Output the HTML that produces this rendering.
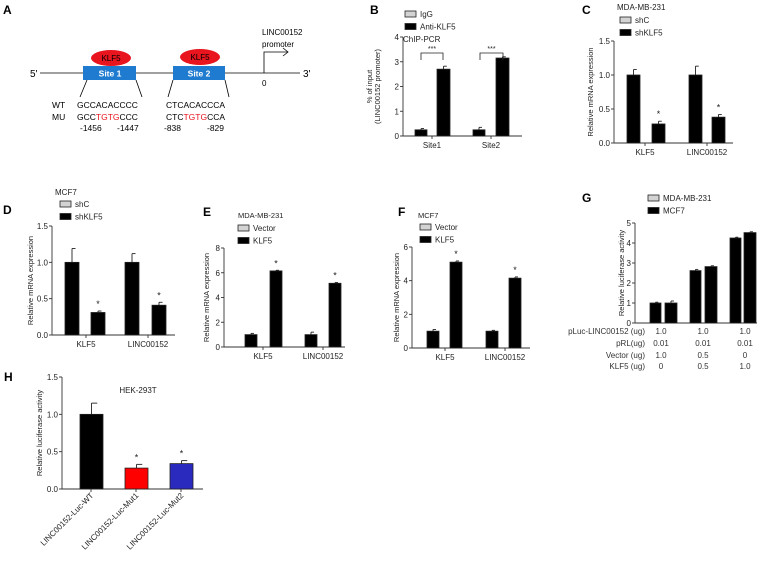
<!DOCTYPE html>
<html><head><meta charset="utf-8"><style>
body{margin:0;background:#fff}
svg{display:block;font-family:"Liberation Sans",Arial,sans-serif}
</style></head><body>
<svg id="fig" width="765" height="570" viewBox="0 0 765 570" xmlns="http://www.w3.org/2000/svg">
<g>
<text x="3" y="14" font-size="12" font-weight="bold">A</text>
<text x="30" y="77" font-size="10">5'</text>
<line x1="40" y1="73" x2="300" y2="73" stroke="#000" stroke-width="0.8"/>
<text x="303" y="77" font-size="10">3'</text>
<rect x="83" y="66" width="53" height="14" fill="#1f7bcf"/>
<text x="110" y="76.5" font-size="8.5" fill="#fff" font-weight="bold" text-anchor="middle">Site 1</text>
<ellipse cx="111" cy="58" rx="20" ry="8" fill="#e8141e"/>
<text x="111" y="61" font-size="8" text-anchor="middle">KLF5</text>
<rect x="173" y="66" width="52" height="14" fill="#1f7bcf"/>
<text x="199" y="76.5" font-size="8.5" fill="#fff" font-weight="bold" text-anchor="middle">Site 2</text>
<ellipse cx="200" cy="57" rx="20" ry="8" fill="#e8141e"/>
<text x="200" y="60" font-size="8" text-anchor="middle">KLF5</text>
<polyline points="264,73 264,52 288,52" fill="none" stroke="#000" stroke-width="0.8"/>
<polyline points="283,48 288,52 283,56" fill="none" stroke="#000" stroke-width="0.8"/>
<text x="262" y="35" font-size="8">LINC00152</text>
<text x="262" y="47" font-size="8">promoter</text>
<text x="262" y="86" font-size="8">0</text>
<line x1="87" y1="80" x2="80" y2="97" stroke="#000" stroke-width="0.8"/>
<line x1="136" y1="80" x2="142" y2="97" stroke="#000" stroke-width="0.8"/>
<line x1="173" y1="80" x2="168" y2="97" stroke="#000" stroke-width="0.8"/>
<line x1="225" y1="80" x2="229" y2="97" stroke="#000" stroke-width="0.8"/>
<g font-size="8.5">
<text x="52" y="108">WT</text><text x="52" y="120">MU</text>
<text x="77" y="108">GCCACACCCC</text>
<text x="77" y="120">GCC<tspan fill="#e8141e">TGTG</tspan>CCC</text>
<text x="166" y="108">CTCACACCCA</text>
<text x="166" y="120">CTC<tspan fill="#e8141e">TGTG</tspan>CCA</text>
<text x="80" y="131">-1456</text><text x="117" y="131">-1447</text>
<text x="164" y="131">-838</text><text x="207" y="131">-829</text>
</g>
</g>
<g id="charts"></g>
<g font-size="8" fill="#333">
<text x="645" y="334" text-anchor="end">pLuc-LINC00152 (ug)</text>
<text x="645" y="346" text-anchor="end">pRL(ug)</text>
<text x="645" y="358" text-anchor="end">Vector (ug)</text>
<text x="645" y="369" text-anchor="end">KLF5 (ug)</text>
<text x="661" y="334" text-anchor="middle">1.0</text><text x="703" y="334" text-anchor="middle">1.0</text><text x="745" y="334" text-anchor="middle">1.0</text>
<text x="661" y="346" text-anchor="middle">0.01</text><text x="703" y="346" text-anchor="middle">0.01</text><text x="745" y="346" text-anchor="middle">0.01</text>
<text x="661" y="358" text-anchor="middle">1.0</text><text x="703" y="358" text-anchor="middle">0.5</text><text x="745" y="358" text-anchor="middle">0</text>
<text x="661" y="369" text-anchor="middle">0</text><text x="703" y="369" text-anchor="middle">0.5</text><text x="745" y="369" text-anchor="middle">1.0</text>
</g>
</svg>
<script>
// Panel B
const bCats=["Site1","Site2"], bIgG=[0.25,0.25], bIgGErr=[0.05,0.1], bAnti=[2.7,3.15], bAntiErr=[0.12,0.05], bTicks=[0,1,2,3,4];
// Panel C
const cCats=["KLF5","LINC00152"], cShC=[1.0,1.0], cShCErr=[0.08,0.13], cShK=[0.28,0.38], cShKErr=[0.04,0.04], cTicks=["0.0","0.5","1.0","1.5"];
// Panel D
const dCats=["KLF5","LINC00152"], dShC=[1.0,1.0], dShCErr=[0.19,0.12], dShK=[0.31,0.41], dShKErr=[0.02,0.04], dTicks=["0.0","0.5","1.0","1.5"];
// Panel E
const eCats=["KLF5","LINC00152"], eVec=[1.0,1.0], eVecErr=[0.1,0.2], eKlf=[6.15,5.15], eKlfErr=[0.05,0.06], eTicks=[0,2,4,6,8];
// Panel F
const fCats=["KLF5","LINC00152"], fVec=[1.0,1.0], fVecErr=[0.1,0.05], fKlf=[5.1,4.15], fKlfErr=[0.07,0.07], fTicks=[0,2,4,6];
// Panel G
const gMda=[1.0,2.62,4.25], gMdaErr=[0.04,0.06,0.04], gMcf=[1.0,2.82,4.52], gMcfErr=[0.1,0.04,0.04], gTicks=[0,1,2,3,4,5];
// Panel H
const hCats=["LINC00152-Luc-WT","LINC00152-Luc-Mut1","LINC00152-Luc-Mut2"], hVals=[1.0,0.28,0.34], hErr=[0.15,0.05,0.04], hTicks=["0.0","0.5","1.0","1.5"];

const NS="http://www.w3.org/2000/svg", root=document.getElementById('charts');
function mk(t,a,p){const e=document.createElementNS(NS,t);for(const k in a)e.setAttribute(k,a[k]);(p||root).appendChild(e);return e;}
function txt(p,x,y,s,fs,anchor,extra){const e=mk('text',Object.assign({x:x,y:y,'font-size':fs,'text-anchor':anchor||'start',fill:'#222'},extra||{}),p);e.textContent=s;return e;}

function panel(o){
  const g=mk('g',{});
  
  
  const y=v=>o.y0-(v-o.min)/(o.max-o.min)*(o.y0-o.y1);
  mk('line',{x1:o.ax,y1:o.y1,x2:o.ax,y2:o.y0,stroke:'#333','stroke-width':0.9},g);
  mk('line',{x1:o.ax,y1:o.y0,x2:o.xEnd,y2:o.y0,stroke:'#333','stroke-width':0.9},g);
  o.ticks.forEach(t=>{const v=parseFloat(t),yy=y(v);
    mk('line',{x1:o.ax-3,y1:yy,x2:o.ax,y2:yy,stroke:'#333','stroke-width':0.9},g);
    const tl=txt(g,o.ax-4,yy+3,String(t),8,'end');
    
    });
  const yl=txt(g,0,0,o.ylabel,7.5,'middle',{transform:`translate(${o.ylx},${(o.y0+o.y1)/2}) rotate(-90)`});
  
  
  if(o.ylabel2){txt(g,0,0,o.ylabel2,7.5,'middle',{transform:`translate(${o.ylx+8},${(o.y0+o.y1)/2}) rotate(-90)`});}
  o.series.forEach(s=>{s.vals.forEach((v,i)=>{
    const x=s.xs[i], top=y(v), w=s.w;
    const b=mk('rect',{x:x,y:top,width:w,height:o.y0-top,fill:s.fill[i]||s.fill,stroke:'#222','stroke-width':0.8},g);
    
    
    const et=y(v+s.err[i]), cx=x+w/2;
    mk('line',{x1:cx,y1:top,x2:cx,y2:et,stroke:'#222','stroke-width':0.9},g);
    mk('line',{x1:cx,y1:et,x2:cx+w/4,y2:et,stroke:'#222','stroke-width':0.9},g);
    if(s.star&&s.star[i])txt(g,cx,et-4,'*',9,'middle');
  });});
  if(o.cats)o.cats.forEach((c,i)=>{const cx=o.catX[i];
    mk('line',{x1:cx,y1:o.y0,x2:cx,y2:o.y0+3,stroke:'#333','stroke-width':0.9},g);
    const l=txt(g,cx,o.y0+12,c,8,'middle');
    
    });
  return {g,y};
}
function legend(g,x,y,items){items.forEach((it,i)=>{
  const r=mk('rect',{x:x,y:y+i*12.5-6,width:11,height:6,fill:it[1],stroke:'#222','stroke-width':0.8},g);
  
  
  txt(g,x+15,y+i*12.5,it[0],8);});}
const GR='#d3d3d3', BK='#000';

// B
let p=panel({name:'panel-b-chart',ax:403,y0:136,y1:37,min:0,max:4,xEnd:522,ticks:bTicks,ylabel:'% of input',ylabel2:'(LINC00152 promoter)',ylx:372,
 cats:bCats,catX:[432,491],series:[{vals:bIgG,err:bIgGErr,xs:[415,473],w:12,fill:GR},{vals:bAnti,err:bAntiErr,xs:[437,496],w:13,fill:BK}]});
txt(p.g,370,14,'B',12,'start',{'font-weight':'bold',fill:'#000'});
legend(p.g,405,17,[['IgG',GR],['Anti-KLF5',BK]]);
txt(p.g,403,42,'ChIP-PCR',8);
[[421,443],[480,503]].forEach(b=>{mk('polyline',{points:`${b[0]},60 ${b[0]},53 ${b[1]},53 ${b[1]},60`,fill:'none',stroke:'#222','stroke-width':0.8},p.g);txt(p.g,(b[0]+b[1])/2,51,'***',7,'middle');});

// C
p=panel({name:'panel-c-chart',ax:614,y0:143,y1:41,min:0,max:1.5,xEnd:733,ticks:cTicks,ylabel:'Relative mRNA expression',ylx:593,
 cats:cCats,catX:[645,707],series:[{vals:cShC,err:cShCErr,xs:[627,689],w:13,fill:GR},{vals:cShK,err:cShKErr,xs:[652,712],w:13,fill:BK,star:[1,1]}]});
txt(p.g,582,14,'C',12,'start',{'font-weight':'bold',fill:'#000'});
txt(p.g,617,10,'MDA-MB-231',8);
legend(p.g,620,23,[['shC',GR],['shKLF5',BK]]);

// D
p=panel({name:'panel-d-chart',ax:52,y0:335,y1:226,min:0,max:1.5,xEnd:175,ticks:dTicks,ylabel:'Relative mRNA expression',ylx:33,
 cats:dCats,catX:[86,148],series:[{vals:dShC,err:dShCErr,xs:[65,125],w:14,fill:GR},{vals:dShK,err:dShKErr,xs:[91,152],w:14,fill:BK,star:[1,1]}]});
txt(p.g,3,214,'D',12,'start',{'font-weight':'bold',fill:'#000'});
txt(p.g,55,195,'MCF7',8);
legend(p.g,60,207,[['shC',GR],['shKLF5',BK]]);

// E
p=panel({name:'panel-e-chart',ax:224,y0:347,y1:248,min:0,max:8,xEnd:345,ticks:eTicks,ylabel:'Relative mRNA expression',ylx:209,
 cats:eCats,catX:[263,323],series:[{vals:eVec,err:eVecErr,xs:[245,305],w:12,fill:GR},{vals:eKlf,err:eKlfErr,xs:[270,329],w:12,fill:BK,star:[1,1]}]});
txt(p.g,203,216,'E',12,'start',{'font-weight':'bold',fill:'#000'});
txt(p.g,238,218,'MDA-MB-231',7.5);
legend(p.g,238,231,[['Vector',GR],['KLF5',BK]]);

// F
p=panel({name:'panel-f-chart',ax:412,y0:348,y1:247,min:0,max:6,xEnd:530,ticks:fTicks,ylabel:'Relative mRNA expression',ylx:399,
 cats:fCats,catX:[445,505],series:[{vals:fVec,err:fVecErr,xs:[427,486],w:12,fill:GR},{vals:fKlf,err:fKlfErr,xs:[450,509],w:12,fill:BK,star:[1,1]}]});
txt(p.g,398,216,'F',12,'start',{'font-weight':'bold',fill:'#000'});
txt(p.g,418,218,'MCF7',7.5);
legend(p.g,420,230,[['Vector',GR],['KLF5',BK]]);

// G
p=panel({name:'panel-g-chart',ax:635,y0:323,y1:223,min:0,max:5,xEnd:757,ticks:gTicks,ylabel:'Relative luciferase activity',ylx:624,
 series:[{vals:gMda,err:gMdaErr,xs:[650,690,730],w:11,fill:GR},{vals:gMcf,err:gMcfErr,xs:[665,705,744],w:12,fill:BK}]});
txt(p.g,582,202,'G',12,'start',{'font-weight':'bold',fill:'#000'});
legend(p.g,648,201,[['MDA-MB-231',GR],['MCF7',BK]]);

// H
p=panel({name:'panel-h-chart',ax:62,y0:489,y1:377,min:0,max:1.5,xEnd:203,ticks:hTicks,ylabel:'Relative luciferase activity',ylx:42,
 series:[{vals:hVals,err:hErr,xs:[80,125,170],w:23,fill:['#000','#ff0000','#2a2abf'],star:[0,1,1]}]});
txt(p.g,4,381,'H',12,'start',{'font-weight':'bold',fill:'#000'});
txt(p.g,138,393,'HEK-293T',8,'middle');
hCats.forEach((c,i)=>{const cx=[91,136,181][i];
  mk('line',{x1:cx,y1:489,x2:cx,y2:492,stroke:'#333','stroke-width':0.9},p.g);
  const l=txt(p.g,0,0,c,8,'end',{transform:`translate(${cx+3},${496}) rotate(-45)`});
  
  });
</script>
</body></html>
